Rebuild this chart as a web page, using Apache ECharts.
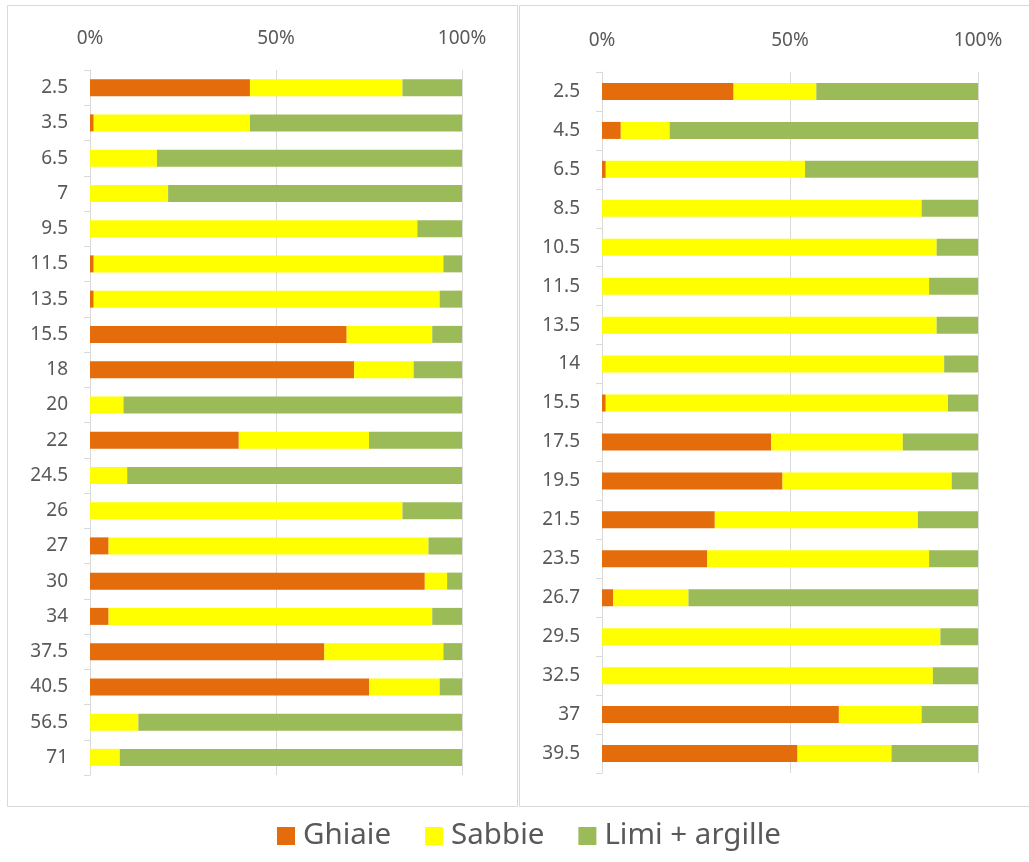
<!DOCTYPE html>
<html>
<head>
<meta charset="utf-8">
<title>Granulometria</title>
<script src="https://cdn.jsdelivr.net/npm/echarts@6/dist/echarts.min.js"></script>
<style>
  html, body { margin: 0; padding: 0; background: #ffffff; }
  #chart { width: 1029px; height: 862px; }
</style>
</head>
<body>
<div id="chart"></div>
<script>
// Depth categories (m) for the two boreholes
const depthsA = ['2.5', '3.5', '6.5', '7', '9.5', '11.5', '13.5', '15.5', '18', '20', '22', '24.5', '26', '27', '30', '34', '37.5', '40.5', '56.5', '71'];
const depthsB = ['2.5', '4.5', '6.5', '8.5', '10.5', '11.5', '13.5', '14', '15.5', '17.5', '19.5', '21.5', '23.5', '26.7', '29.5', '32.5', '37', '39.5'];

// Grain-size fractions (%) – borehole A
const ghiaieA = [43, 1, 0, 0, 0, 1, 1, 69, 71, 0, 40, 0, 0, 5, 90, 5, 63, 75, 0, 0];
const sabbieA = [41, 42, 18, 21, 88, 94, 93, 23, 16, 9, 35, 10, 84, 86, 6, 87, 32, 19, 13, 8];
const limiA   = [16, 57, 82, 79, 12, 5, 6, 8, 13, 91, 25, 90, 16, 9, 4, 8, 5, 6, 87, 92];

// Grain-size fractions (%) – borehole B
const ghiaieB = [35, 5, 1, 0, 0, 0, 0, 0, 1, 45, 48, 30, 28, 3, 0, 0, 63, 52];
const sabbieB = [22, 13, 53, 85, 89, 87, 89, 91, 91, 35, 45, 54, 59, 20, 90, 88, 22, 25];
const limiB   = [43, 82, 46, 15, 11, 13, 11, 9, 8, 20, 7, 16, 13, 77, 10, 12, 15, 23];

const seriesNames = ['Ghiaie', 'Sabbie', 'Limi + argille'];
const colors = ['#E46C0A', '#FFFF00', '#9BBB59'];

const textColor = '#595959';
const gridColor = '#D9D9D9';
const font = 'Noto Sans';

function xAxisFor(idx) {
  return {
    type: 'value', gridIndex: idx, position: 'top',
    min: 0, max: 100, interval: 50,
    axisLine: { show: false },
    axisTick: { show: false },
    splitLine: { show: true, lineStyle: { color: gridColor, width: 1 } },
    axisLabel: { formatter: '{value}%', color: textColor, fontSize: 19, fontFamily: font, margin: 22 }
  };
}

function yAxisFor(idx, cats) {
  return {
    type: 'category', gridIndex: idx, data: cats, inverse: true,
    axisLine: { show: true, lineStyle: { color: gridColor, width: 1 } },
    axisTick: { show: true, length: 6, lineStyle: { color: gridColor } },
    axisLabel: { color: textColor, fontSize: 19, fontFamily: font, margin: 22 }
  };
}

function barsFor(idx, values) {
  return values.map((vals, i) => ({
    name: seriesNames[i], type: 'bar', stack: 'p' + idx,
    xAxisIndex: idx, yAxisIndex: idx,
    data: vals, barWidth: 17,
    itemStyle: { color: colors[i] },
    emphasis: { disabled: true }
  }));
}

const chart = echarts.init(document.getElementById('chart'), null, { renderer: 'canvas' });

chart.setOption({
  animation: false,
  backgroundColor: '#ffffff',
  textStyle: { fontFamily: font },
  graphic: [
    { type: 'rect', shape: { x: 7.5, y: 5.5, width: 510, height: 801 }, style: { fill: 'none', stroke: gridColor, lineWidth: 1 }, silent: true },
    { type: 'rect', shape: { x: 519.5, y: 5.5, width: 520, height: 801 }, style: { fill: 'none', stroke: gridColor, lineWidth: 1 }, silent: true }
  ],
  legend: {
    data: seriesNames,
    bottom: 6, left: 272,
    icon: 'rect', itemWidth: 18, itemHeight: 18, itemGap: 34,
    textStyle: { color: textColor, fontSize: 29.5, fontFamily: font, padding: [0, 0, 0, 3] }
  },
  grid: [
    { left: 90, top: 70, width: 372, height: 705 },
    { left: 602, top: 72, width: 376, height: 701 }
  ],
  xAxis: [xAxisFor(0), xAxisFor(1)],
  yAxis: [yAxisFor(0, depthsA), yAxisFor(1, depthsB)],
  series: [
    ...barsFor(0, [ghiaieA, sabbieA, limiA]),
    ...barsFor(1, [ghiaieB, sabbieB, limiB])
  ]
});
</script>
</body>
</html>
